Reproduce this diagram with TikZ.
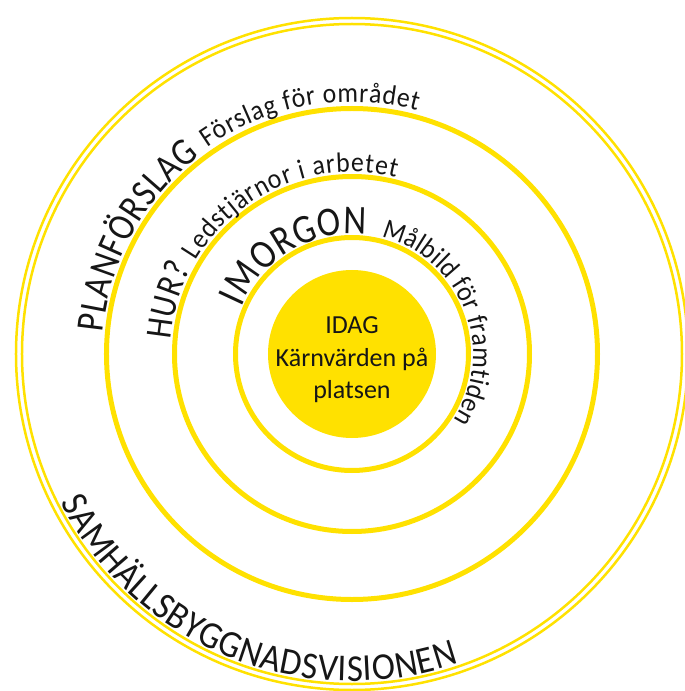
\documentclass[tikz,border=0pt]{standalone}
\usepackage{fontspec}
\setmainfont{Carlito}
\newfontfamily\smalstor[FakeStretch=0.86]{Carlito}
\newfontfamily\smalliten[FakeStretch=0.92]{Carlito}
\usetikzlibrary{decorations.text}
\definecolor{gul}{RGB}{255,225,0}
\definecolor{svart}{RGB}{22,22,22}
\newcommand{\storfont}{\smalstor\fontsize{39}{39}\selectfont}
\newcommand{\litenfont}{\smalliten\fontsize{28}{28}\selectfont}

\begin{document}
\begin{tikzpicture}[x=1pt,y=1pt,
    ring/.style={draw=gul, line width=5pt},
    tunnring/.style={draw=gul, line width=2.5pt},
    bage/.style={decorate, decoration={text along path, text color=svart, text align=#1}},
    bage/.default=left]
    \useasboundingbox (-352,-337) rectangle (333,354);
    % ringarna
    \draw[tunnring] (0,0) circle[radius=336];
    \draw[tunnring] (0,0) circle[radius=330];
    \draw[ring] (0,0) circle[radius=245.5];
    \draw[ring] (0,0) circle[radius=177.5];
    \draw[ring] (0,0) circle[radius=116.5];
    \fill[gul] (0,0) circle[radius=84];
    \node[text=svart, align=center, font=\fontsize{26}{32.5}\selectfont] (idag) at (0,-6)
        {IDAG\\Kärnvärden på\\platsen};
    % texter längs ringarna
    \path[bage=fit to path, decoration={text={|\storfont|PLANFÖRSLAG}}]
        (175:250) arc[start angle=175, end angle=127.5, radius=250];
    \path[bage=fit to path, decoration={text={|\litenfont|Förslag för området}}]
        (125:252) arc[start angle=125, end angle=75, radius=252];
    \path[bage=fit to path, decoration={text={|\smalstor\fontsize{37}{37}\selectfont|HUR? |\litenfont|Ledstjärnor i arbetet}}]
        (175.5:182) arc[start angle=175.5, end angle=76, radius=182];
    \path[bage=fit to path, decoration={text={|\smalstor\fontsize{41}{41}\selectfont|IMORGON}}]
        (157:120) arc[start angle=157, end angle=83, radius=120];
    \path[bage=fit to path, decoration={text={|\litenfont|Målbild för framtiden}}]
        (76:121) arc[start angle=76, end angle=-33, radius=121];
    \path[bage=fit to path, decoration={text={|\smalliten\fontsize{38}{38}\selectfont|SAMHÄLLSBYGGNADSVISIONEN}}]
        (207:327) arc[start angle=207, end angle=289, radius=327];
\end{tikzpicture}
\end{document}
